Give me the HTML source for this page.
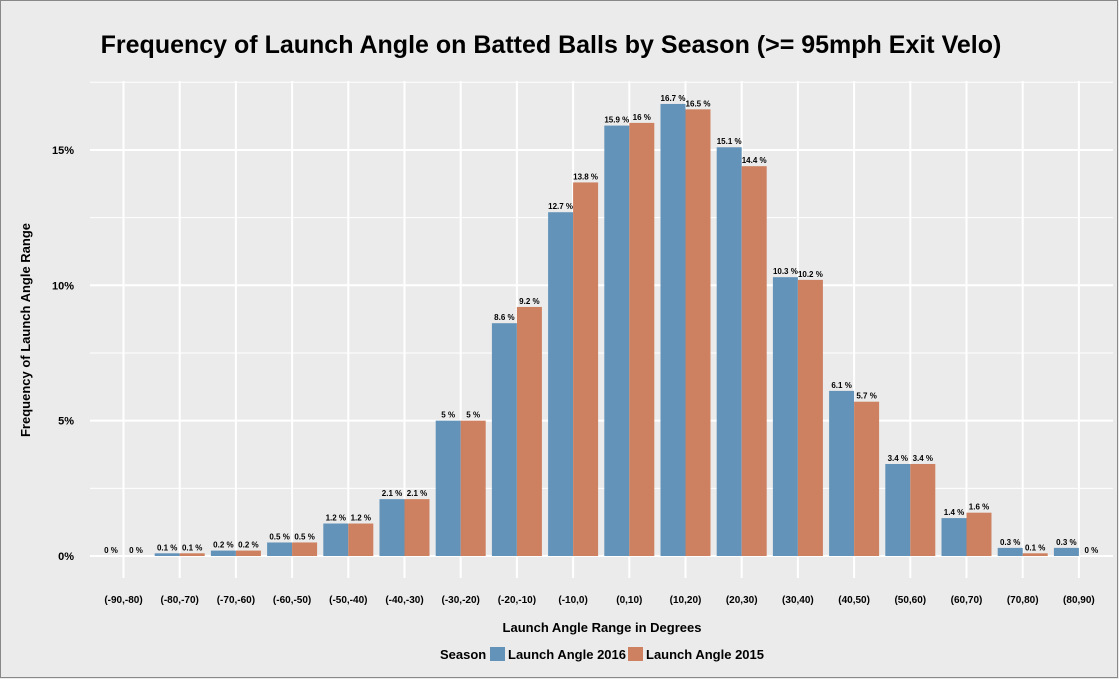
<!DOCTYPE html>
<html><head><meta charset="utf-8"><style>
body{margin:0;background:#ebebeb;}
svg{display:block;font-family:"Liberation Sans",Arial,sans-serif;}
</style></head><body>
<svg id="chart" width="1119" height="679" viewBox="0 0 1119 679" xmlns="http://www.w3.org/2000/svg">
<rect x="0.5" y="0.5" width="1117" height="677" fill="#ebebeb" stroke="#888" stroke-width="1"/>
<text x="551" y="53" text-anchor="middle" font-size="25" font-weight="bold" fill="#000">Frequency of Launch Angle on Batted Balls by Season (&gt;= 95mph Exit Velo)</text>
<g id="grid"></g>
<g id="bars"></g>
<g id="labels"></g>
<g id="axes"></g>
<text x="30" y="330" text-anchor="middle" font-size="13" font-weight="bold" transform="rotate(-90 30 330)">Frequency of Launch Angle Range</text>
<text x="602" y="632" text-anchor="middle" font-size="13" font-weight="bold">Launch Angle Range in Degrees</text>
<g>
<text x="440" y="659" font-size="13" font-weight="bold">Season</text>
<g><rect x="490" y="647" width="15" height="14" fill="#6393b9"/><text x="508" y="659" font-size="13" font-weight="bold">Launch Angle 2016</text></g>
<g><rect x="628" y="647" width="15" height="14" fill="#cd8160"/><text x="646" y="659" font-size="13" font-weight="bold">Launch Angle 2015</text></g>
</g>
</svg>
<script>
const categories=["(-90,-80)","(-80,-70)","(-70,-60)","(-60,-50)","(-50,-40)","(-40,-30)","(-30,-20)","(-20,-10)","(-10,0)","(0,10)","(10,20)","(20,30)","(30,40)","(40,50)","(50,60)","(60,70)","(70,80)","(80,90)"];
const values2016=[0,0.1,0.2,0.5,1.2,2.1,5,8.6,12.7,15.9,16.7,15.1,10.3,6.1,3.4,1.4,0.3,0.3];
const values2015=[0,0.1,0.2,0.5,1.2,2.1,5,9.2,13.8,16,16.5,14.4,10.2,5.7,3.4,1.6,0.1,0];
const yTicks=[0,5,10,15];
const yTickLabels=["0%","5%","10%","15%"];
const yMinor=[2.5,7.5,12.5,17.5];
const NS="http://www.w3.org/2000/svg";
const px0=90,px1=1113,py0=81,py1=578;
const y0=556,pxPerPct=27.07,step=56.2,firstX=123.5,bw=25;
const y=v=>y0-v*pxPerPct;
const x=i=>firstX+i*step;
function mk(tag,attrs,parent){const e=document.createElementNS(NS,tag);for(const k in attrs)e.setAttribute(k,attrs[k]);parent.appendChild(e);return e;}
const grid=document.getElementById('grid'),bars=document.getElementById('bars'),labels=document.getElementById('labels'),axes=document.getElementById('axes');
yMinor.forEach(v=>{const l=mk('line',{x1:px0,x2:px1,y1:y(v),y2:y(v),stroke:'#fff','stroke-width':1},grid);

});
yTicks.forEach((v,i)=>{const l=mk('line',{x1:px0,x2:px1,y1:y(v),y2:y(v),stroke:'#fff','stroke-width':2},grid);


const t=mk('text',{x:74,y:y(v)+4,'text-anchor':'end','font-size':11,'font-weight':'bold'},axes);t.textContent=yTickLabels[i];

});
categories.forEach((c,i)=>{const l=mk('line',{x1:x(i),x2:x(i),y1:py0,y2:py1,stroke:'#fff','stroke-width':2},grid);


const t=mk('text',{x:x(i),y:603,'text-anchor':'middle','font-size':10,'font-weight':'bold'},axes);t.textContent=c;


[[values2016,'#6393b9',-bw],[values2015,'#cd8160',0]].forEach(([arr,col,off])=>{const v=arr[i];
if(v>0){const r=mk('rect',{x:x(i)+off,y:y(v),width:bw,height:y0-y(v),fill:col},bars);

}
const lt=mk('text',{x:x(i)+off+bw/2,y:y(v)-3,'text-anchor':'middle','font-size':8,'font-weight':'bold'},labels);lt.textContent=v+' %';

});});
</script>
</body></html>
